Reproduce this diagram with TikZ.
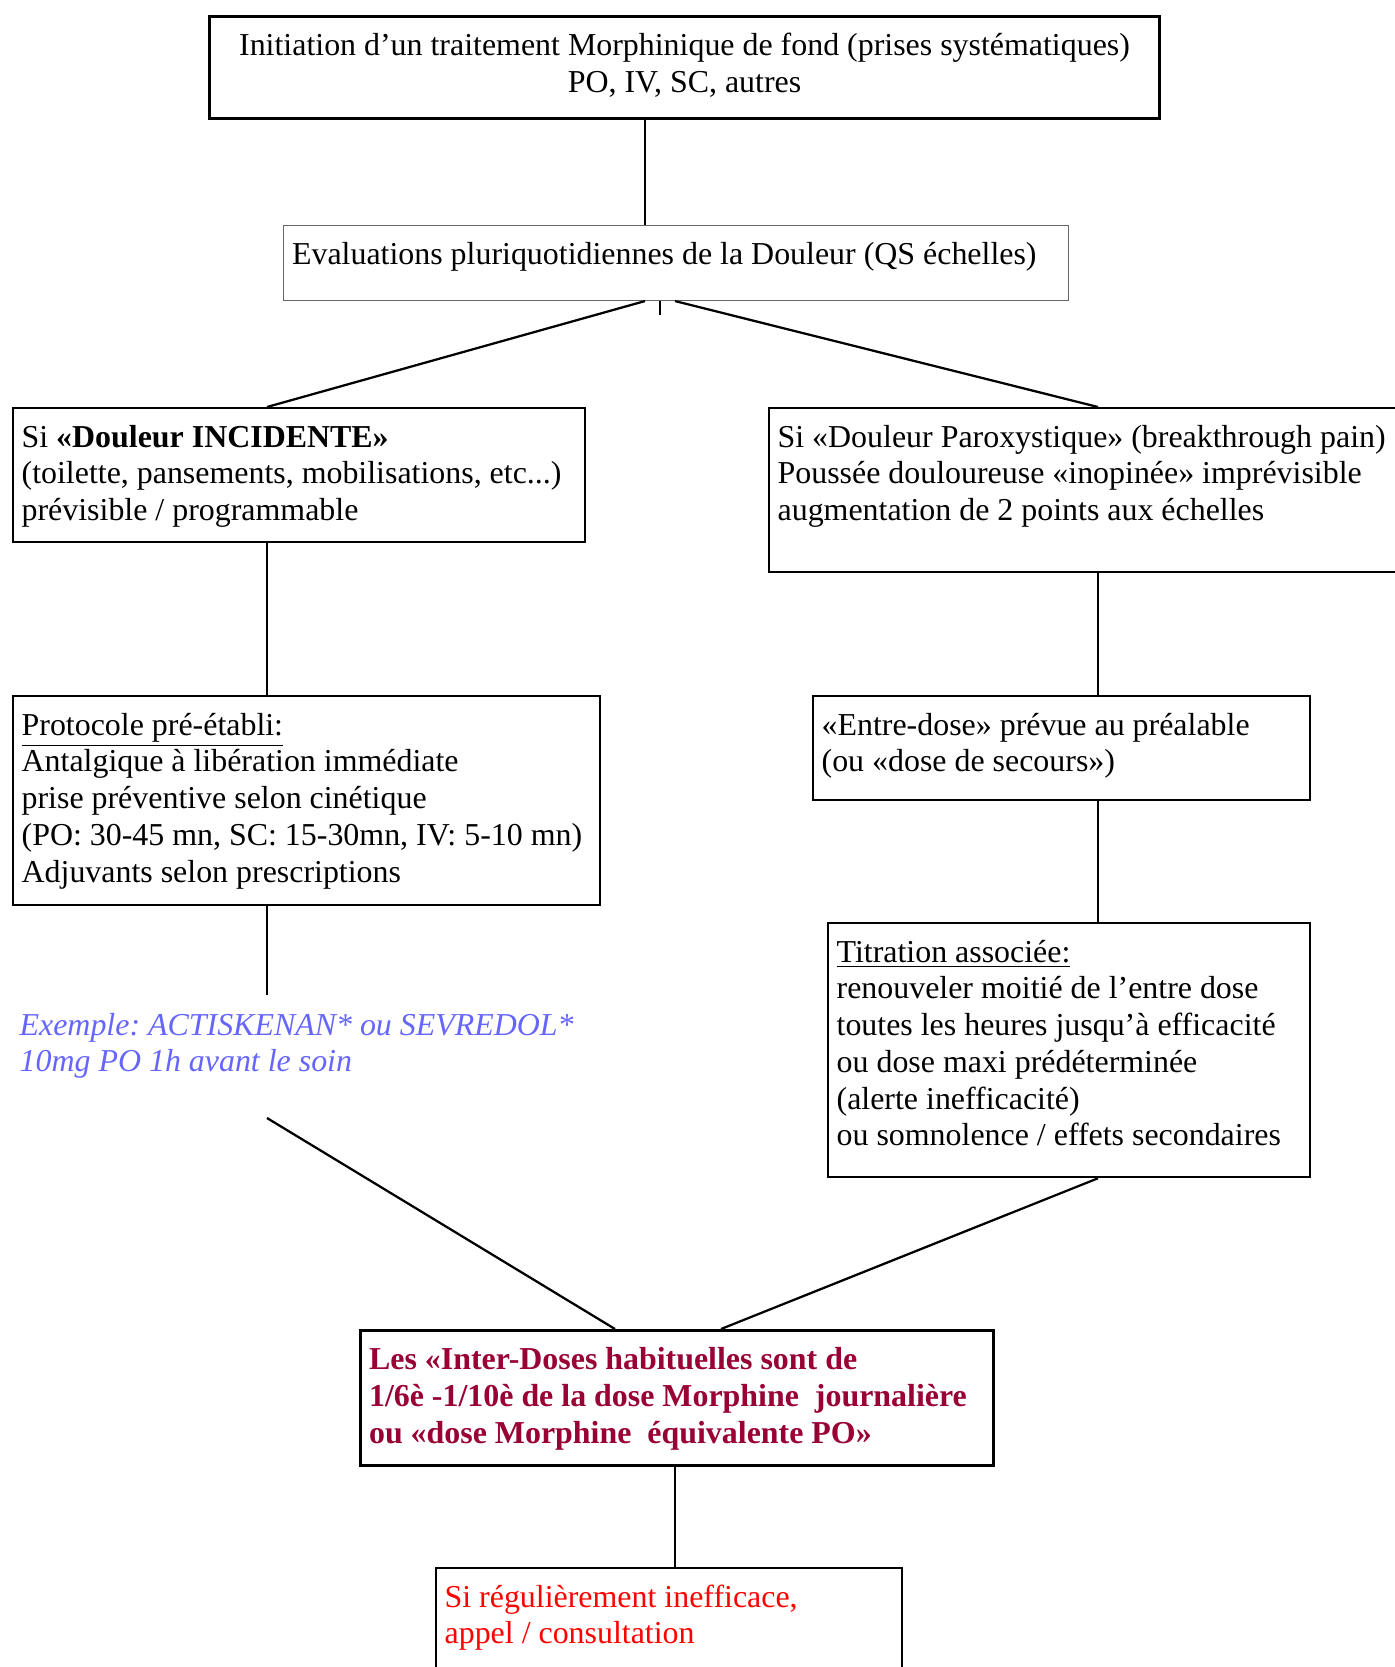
\documentclass[tikz,border=0pt]{standalone}
\usepackage{fontspec}
\setmainfont{Liberation Serif}
\usepackage{xcolor}
\definecolor{interred}{RGB}{153,0,51}
\definecolor{exblue}{RGB}{102,102,255}
\definecolor{alertred}{RGB}{255,0,0}
\frenchspacing
\newcommand{\px}[1]{\dimexpr0.376pt*#1\relax}
% box content: width, height (in px), text
\newcommand{\boxtext}[3]{\begin{minipage}[c][\px{#2}][t]{\px{#1}}\raggedright\leftskip=3.2pt\relax\parindent=0pt\rule{0pt}{14.7pt}#3\end{minipage}}
\tikzset{
    box/.style={draw, line width=0.85pt, anchor=north west, inner sep=0pt,
        font=\fontsize{12}{13.8}\selectfont},
    heavybox/.style={box, line width=1.15pt},
    lightbox/.style={box, line width=0.4pt, draw=black!60},
    note/.style={box, draw=none},
    link/.style={line width=0.85pt},
}

\begin{document}
\begin{tikzpicture}[x=0.376pt, y=-0.376pt]
        \useasboundingbox (0,0) rectangle (1394,1667);
        \fill[white] (0,0) rectangle (1394,1667);
        % columns of the connectors
        \coordinate (colL) at (267,0);
        \coordinate (colR) at (1098,0);
        \coordinate (colM) at (645,0);
        \coordinate (colN) at (675,0);
        \coordinate (colS) at (660,0);
        \coordinate (colA) at (615,0);
        \coordinate (colB) at (721,0);
        \coordinate (stub) at (660,315);
        \coordinate (protoend) at (267,995);
        \coordinate (exstart) at (267,1118);

        \node[heavybox] (init) at (208,15) {\boxtext{950}{102}{\centering
            Initiation d’un traitement Morphinique de fond (prises systématiques)\\
            PO, IV, SC, autres}};
        \node[lightbox] (eval) at (283,225) {\boxtext{785}{75}{%
            Evaluations pluriquotidiennes de la Douleur (QS échelles)}};

        \node[box] (inci) at (12,407) {\boxtext{572}{134}{%
            Si \textbf{«Douleur INCIDENTE»}\\
            (toilette, pansements, mobilisations, etc...)\\
            prévisible / programmable}};
        \node[box] (proto) at (12,695) {\boxtext{587}{209}{%
            \underline{Protocole pré-établi:}\\
            Antalgique à libération immédiate\\
            prise préventive selon cinétique\\
            (PO: 30-45 mn, SC: 15-30mn, IV: 5-10 mn)\\
            Adjuvants selon prescriptions}};
        \node[note] (ex) at (10,995) {\boxtext{580}{90}{\itshape\color{exblue}
            Exemple: ACTISKENAN* ou SEVREDOL*\\
            10mg PO 1h avant le soin}};

        \node[box] (paro) at (768,407) {\boxtext{660}{164}{%
            Si «Douleur Paroxystique» (breakthrough pain)\\
            Poussée douloureuse «inopinée» imprévisible\\
            augmentation de 2 points aux échelles}};
        \node[box] (entre) at (812,695) {\boxtext{497}{104}{%
            «Entre-dose» prévue au préalable\\
            (ou «dose de secours»)}};
        \node[box] (titr) at (827,922) {\boxtext{482}{254}{%
            \underline{Titration associée:}\\
            renouveler moitié de l’entre dose\\
            toutes les heures jusqu’à efficacité\\
            ou dose maxi prédéterminée\\
            (alerte inefficacité)\\
            ou somnolence / effets secondaires}};

        \node[heavybox] (inter) at (359,1329) {\boxtext{633}{135}{\bfseries\color{interred}
            Les «Inter-Doses habituelles sont de\\
            1/6è -1/10è de la dose Morphine\ \ journalière\\
            ou «dose Morphine\ \ équivalente PO»}};
        \node[box] (recours) at (435,1567) {\boxtext{466}{150}{\color{alertred}
            Si régulièrement inefficace,\\
            appel / consultation}};

        % connectors
        \draw[link] (init.south -| colM) -- (eval.north -| colM);
        \draw[link] (eval.south -| colM) -- (inci.north -| colL);
        \draw[link] (eval.south -| colN) -- (paro.north -| colR);
        \draw[link] (eval.south -| colS) -- (stub);
        \draw[link] (inci.south -| colL) -- (proto.north -| colL);
        \draw[link] (proto.south -| colL) -- (protoend);
        \draw[link] (exstart) -- (inter.north -| colA);
        \draw[link] (paro.south -| colR) -- (entre.north -| colR);
        \draw[link] (entre.south -| colR) -- (titr.north -| colR);
        \draw[link] (titr.south -| colR) -- (inter.north -| colB);
        \draw[link] (inter.south -| colN) -- (recours.north -| colN);
    \end{tikzpicture}
\end{document}
